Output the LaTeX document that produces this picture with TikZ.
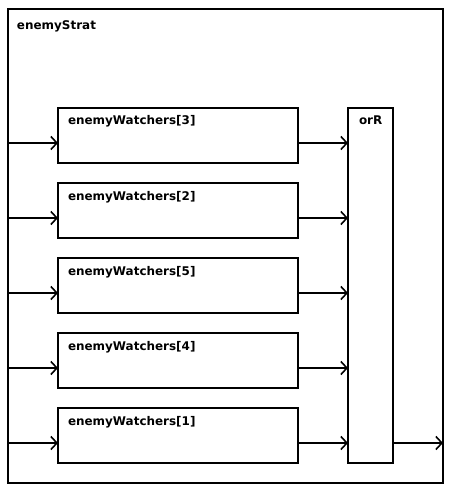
\documentclass[tikz,border=0pt]{standalone}
\usepackage{fontspec}
\setmainfont{DejaVu Sans}
\usetikzlibrary{arrows.meta,calc}
\begin{document}
\begin{tikzpicture}[x=1bp,y=-1bp,
  frame/.style={draw,line width=2bp,inner sep=0pt,outer sep=0pt},
  blk/.style={frame,minimum width=240bp,minimum height=55bp},
  lbl/.style={anchor=base west,inner sep=0pt,outer sep=0pt,font=\fontsize{12}{14}\selectfont\bfseries},
  arr/.style={line width=1.6bp,-{Straight Barb[length=6bp,width=13bp]}}]
\useasboundingbox (0,0) rectangle (453,493);
\node[frame,minimum width=435bp,minimum height=474bp] (outer) at (225.5,246) {};
\node[lbl] (lout) at ($(outer.north west)+(9,21)$) {enemyStrat};
\node[frame,minimum width=45bp,minimum height=355bp] (orR) at (370.5,285.5) {};
\node[lbl] (lorR) at ($(orR.north west)+(11,17)$) {orR};
\foreach \i/\y in {3/135.5,2/210.5,5/285.5,4/360.5,1/435.5}{
  \node[blk] (w\i) at (178,\y) {};
  \node[lbl] (l\i) at ($(w\i.north west)+(10,17)$) {enemyWatchers[\i]};
  \coordinate (in\i) at ($(w\i.west)+(0,7.5)$);
  \coordinate (out\i) at ($(w\i.east)+(0,7.5)$);
  \draw[arr] (outer.west |- in\i) -- (in\i);
  \draw[arr] (out\i) -- (orR.west |- out\i);
}
\draw[arr] (orR.east |- out1) -- (outer.east |- out1);
\end{tikzpicture}
\end{document}
